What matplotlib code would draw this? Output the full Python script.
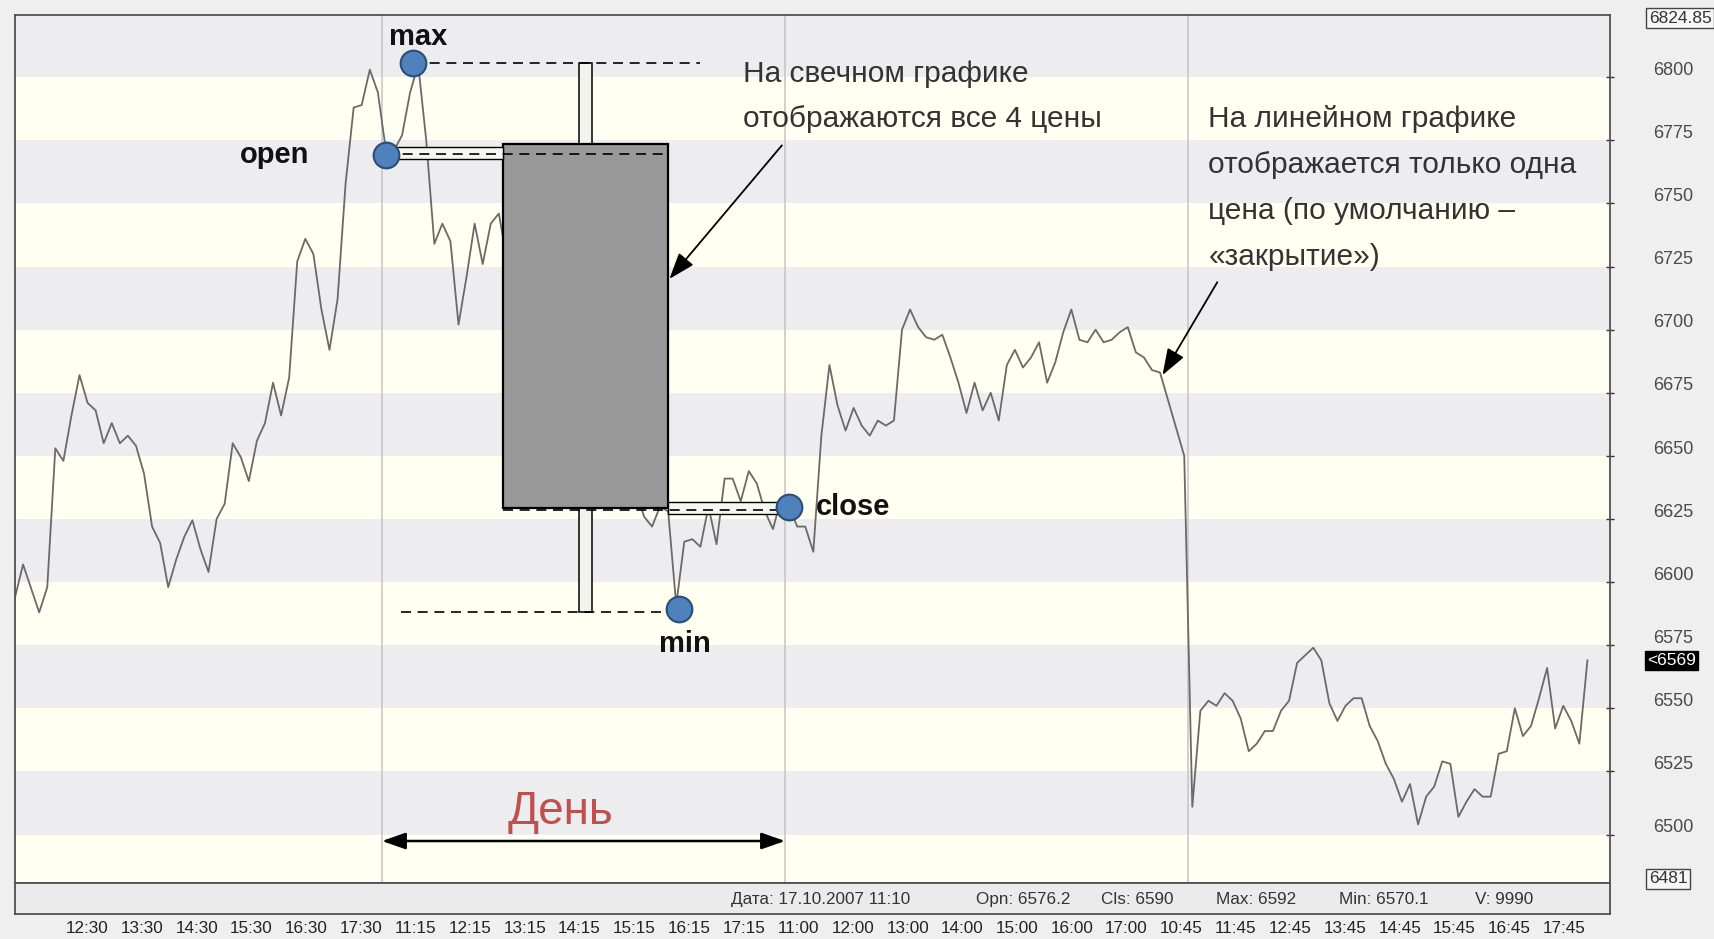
import numpy as np
import matplotlib
matplotlib.use("Agg")
import matplotlib.pyplot as plt
from matplotlib.patches import Rectangle
from matplotlib.transforms import ScaledTranslation, blended_transform_factory
import matplotlib.font_manager as fm

# ---------------- data ----------------
close_prices = [
    6594, 6607, 6597.5, 6588, 6598, 6653, 6648, 6666, 6682, 6671,
    6668, 6655, 6663, 6655, 6658, 6654, 6643, 6622, 6615.5, 6598,
    6609, 6618, 6624.5, 6613, 6604, 6625, 6631, 6655, 6649.5, 6640,
    6656, 6663, 6679, 6666, 6681, 6727, 6736, 6730, 6708, 6692,
    6712, 6758, 6788, 6789, 6803, 6794,
    6771, 6771, 6777, 6794, 6805, 6775, 6734, 6742, 6735, 6702,
    6721, 6742, 6726, 6742, 6746, 6728, 6712, 6720, 6698, 6705,
    6690, 6676, 6684, 6668, 6660, 6665, 6648, 6652, 6640, 6644,
    6632, 6637, 6626, 6622, 6630, 6628, 6591, 6616, 6617, 6614,
    6630, 6615, 6641, 6641, 6632, 6644, 6639, 6628, 6621, 6633,
    6630, 6622, 6622, 6612, 6658, 6686, 6670, 6660, 6669, 6662,
    6658, 6664, 6662, 6664, 6700, 6708, 6701, 6697, 6696, 6698,
    6689, 6679, 6667, 6679, 6668, 6675, 6664, 6686, 6692, 6685,
    6689, 6695, 6679, 6687, 6699, 6708, 6696, 6695, 6700, 6695,
    6696, 6699, 6701, 6691, 6689, 6684, 6683, 6672, 6661, 6650,
    6511, 6549, 6553, 6551, 6556, 6553, 6546, 6533, 6536, 6541,
    6541, 6549, 6553, 6568, 6571, 6574, 6569, 6552, 6545, 6551,
    6554, 6554, 6543, 6537, 6528, 6522, 6513, 6520, 6504, 6515,
    6519, 6529, 6528, 6507, 6513, 6518, 6515, 6515, 6532, 6533,
    6550, 6539, 6543, 6554, 6566, 6542, 6551, 6545, 6536, 6569,
]
time_labels = ["12:30", "13:30", "14:30", "15:30", "16:30", "17:30",
               "11:15", "12:15", "13:15", "14:15", "15:15", "16:15", "17:15",
               "11:00", "12:00", "13:00", "14:00", "15:00", "16:00", "17:00",
               "10:45", "11:45", "12:45", "13:45", "14:45", "15:45", "16:45", "17:45"]
price_ticks = [6500, 6525, 6550, 6575, 6600, 6625, 6650, 6675, 6700, 6725, 6750, 6775, 6800]
y_low_limit, y_high_limit = 6481, 6824.85
last_price = 6569
day_breaks = [45.5, 95.5, 145.5]
# candle of the highlighted day (open, high, low, close)
candle_open, candle_high, candle_low, candle_close = 6769.0, 6805.7, 6588.3, 6629.2
open_bar, high_bar, low_bar, close_bar = 46.0, 49.4, 82.4, 95.95
status_items = ["Дата: 17.10.2007 11:10", "Opn: 6576.2", "Cls: 6590",
                "Max: 6592", "Min: 6570.1", "V: 9990"]

# ---------------- figure ----------------
W, H = 1715, 939
fig = plt.figure(figsize=(W / 100, H / 100), dpi=100, facecolor="#efefef")


def frame_rect(x0, y0, x1, y1):
    return [x0 / W, 1 - y1 / H, (x1 - x0) / W, (y1 - y0) / H]


installed = {f.name for f in fm.fontManager.ttflist}
FONT = ["Liberation Sans", "DejaVu Sans"]
plt.rcParams["font.family"] = FONT
narrow_ok = "Liberation Sans Narrow" in installed
NARROW = ["Liberation Sans Narrow", "Liberation Sans", "DejaVu Sans"] if narrow_ok else FONT
ann_size = 26 if narrow_ok else 21.5

ax = fig.add_axes(frame_rect(15, 14.5, 1610, 882.5))
bars = np.arange(len(close_prices))
ax.set_xlim(0, 197.8)
ax.set_ylim(y_low_limit, y_high_limit)

# background bands
for t in [price_ticks[0] - 25] + price_ticks:
    band_col = "#ededf0" if ((t - price_ticks[0]) // 25) % 2 == 0 else "#fffff2"
    ax.axhspan(t, t + 25, color=band_col, lw=0, zorder=0)

for d in day_breaks:
    ax.axvline(d, color="#c4c4c4", lw=1.1, zorder=1)

ax.plot(bars, close_prices, color="#6a6a6a", lw=1.3, zorder=2)

# candle
body_top = candle_open + 4.5
c_center, c_width, w_width = 70.8, 20.45, 1.6
ax.add_patch(Rectangle((c_center - w_width / 2, body_top), w_width, candle_high - body_top,
                       facecolor="#f2f2ee", edgecolor="black", lw=1.1, zorder=3))
ax.add_patch(Rectangle((c_center - w_width / 2, candle_low), w_width, candle_close - candle_low,
                       facecolor="#f2f2ee", edgecolor="black", lw=1.1, zorder=3))
ax.add_patch(Rectangle((c_center - c_width / 2, candle_close), c_width, body_top - candle_close,
                       facecolor="#999999", edgecolor="black", lw=1.6, zorder=3.2))
c_left, c_right = c_center - c_width / 2, c_center + c_width / 2

# double connector lines
hh = 2.4
ax.add_patch(Rectangle((open_bar, candle_open - hh + 1), c_left - open_bar, 2 * hh,
                       facecolor="#f7f7f2", edgecolor="black", lw=1.0, zorder=4))
ax.add_patch(Rectangle((c_right, candle_close - hh), close_bar - c_right, 2 * hh,
                       facecolor="#f7f7f2", edgecolor="black", lw=1.0, zorder=4))
dash = (0, (6, 4))
ax.plot([open_bar, c_right], [candle_open + 0.5, candle_open + 0.5], color="black", lw=1.2, ls=dash, zorder=4.5)
ax.plot([c_left, close_bar], [candle_close - 0.6, candle_close - 0.6], color="black", lw=1.2, ls=dash, zorder=4.5)
ax.plot([high_bar, 85.0], [candle_high, candle_high], color="black", lw=1.2, ls=dash, zorder=4.5)
ax.plot([47.9, low_bar], [candle_low, candle_low], color="black", lw=1.2, ls=dash, zorder=4.5)

# markers
ax.plot([open_bar, high_bar, low_bar, close_bar],
        [candle_open, candle_high, candle_low + 1, candle_close + 0.5],
        ls="none", marker="o", ms=18.5, mfc="#4f81bd", mec="#2c4d75", mew=1.5, zorder=6)

bold = dict(fontsize=21, fontweight="bold", color="#111111", zorder=7)
ax.text(50.0, 6816.0, "max", ha="center", va="center", **bold)
ax.text(32.2, candle_open, "open", ha="center", va="center", **bold)
ax.text(99.3, candle_close + 0.5, "close", ha="left", va="center", **bold)
ax.text(83.1, 6575.5, "min", ha="center", va="center", **bold)

# annotation texts
ann = dict(fontsize=ann_size, color="#333333", ha="left", va="baseline", zorder=7, family=NARROW)
tr_ax = ax.transAxes
ax.text(0.4562, (882.5 - 82) / 868, "На свечном графике", transform=tr_ax, **ann)
ax.text(0.4562, (882.5 - 127) / 868, "отображаются все 4 цены", transform=tr_ax, **ann)
for k, line in enumerate(["На линейном графике", "отображается только одна",
                          "цена (по умолчанию –", "«закрытие»)"]):
    ax.text((1208.5 - 15) / 1595, (882.5 - (127 + 46 * k)) / 868, line, transform=tr_ax, **ann)

arrow_kw = dict(arrowstyle="-|>,head_length=0.9,head_width=0.32", color="black", lw=1.3,
                mutation_scale=18, shrinkA=0, shrinkB=0)
ax.annotate("", xy=(81.15, 6720.1), xytext=(95.1, 6773.0), arrowprops=arrow_kw, zorder=7)
ax.annotate("", xy=(142.3, 6682.0), xytext=(149.1, 6718.8), arrowprops=arrow_kw, zorder=7)

blend = blended_transform_factory(ax.transData, ax.transAxes)
ax.annotate("", xy=(day_breaks[1], 0.0478), xytext=(day_breaks[0], 0.0478),
            xycoords=blend, textcoords=blend,
            arrowprops=dict(arrowstyle="<|-|>,head_length=0.8,head_width=0.28", color="black",
                            lw=1.8, mutation_scale=18, shrinkA=0, shrinkB=0), zorder=7)
ax.text(67.7, (882.5 - 812) / 868, "День", transform=blend,
        ha="center", va="center", fontsize=33 if not narrow_ok else 38, family=NARROW,
        color="#c0504d", zorder=7)

# axes styling
for s in ax.spines.values():
    s.set_color("#505050")
    s.set_linewidth(1.3)
ax.yaxis.tick_right()
ax.set_yticks(price_ticks, [str(p) for p in price_ticks])
ax.tick_params(axis="y", direction="inout", length=6, width=1, color="#333333",
               labelsize=13, labelcolor="#4a4a4a", pad=28)
offset = ScaledTranslation(0, 0.088, fig.dpi_scale_trans)
for lab in ax.get_yticklabels():
    lab.set_transform(lab.get_transform() + offset)

tick_pos = np.linspace(8.99, 192.07, len(time_labels))
ax.set_xticks(tick_pos, time_labels)
ax.tick_params(axis="x", length=0, pad=28, labelsize=12.3, labelcolor="#222222")

# boxed limit labels and last price
rblend = blended_transform_factory(ax.transAxes, ax.transData)
box = dict(boxstyle="square,pad=0.15", facecolor="#f6f6f6", edgecolor="#444444", lw=1)
ax.text(1.0245, y_high_limit - 1.5, "6824.85", transform=rblend, ha="left", va="center",
        fontsize=12.5, color="#333333", bbox=box, clip_on=False)
ax.text(1.0245, y_low_limit + 1.5, "6481", transform=rblend, ha="left", va="center",
        fontsize=12.5, color="#333333", bbox=box, clip_on=False)
ax.text(1.0235, last_price, "<" + str(last_price), transform=rblend, ha="left", va="center",
        fontsize=12.5, color="white",
        bbox=dict(boxstyle="square,pad=0.12", facecolor="black", edgecolor="black"), clip_on=False)

# status bar
sax = fig.add_axes(frame_rect(15, 882.5, 1610, 914))
sax.set_facecolor("#ebebeb")
sax.set_xticks([])
sax.set_yticks([])
for s in sax.spines.values():
    s.set_color("#505050")
    s.set_linewidth(1.3)
for xpx, txt in zip([730.6, 975.6, 1101.4, 1216.3, 1338.8, 1475.5], status_items):
    sax.text((xpx - 15) / 1595, 0.45, txt, transform=sax.transAxes, ha="left", va="center",
             fontsize=12.3, color="#333333")

fig.savefig("out.png", dpi=100, facecolor=fig.get_facecolor())
